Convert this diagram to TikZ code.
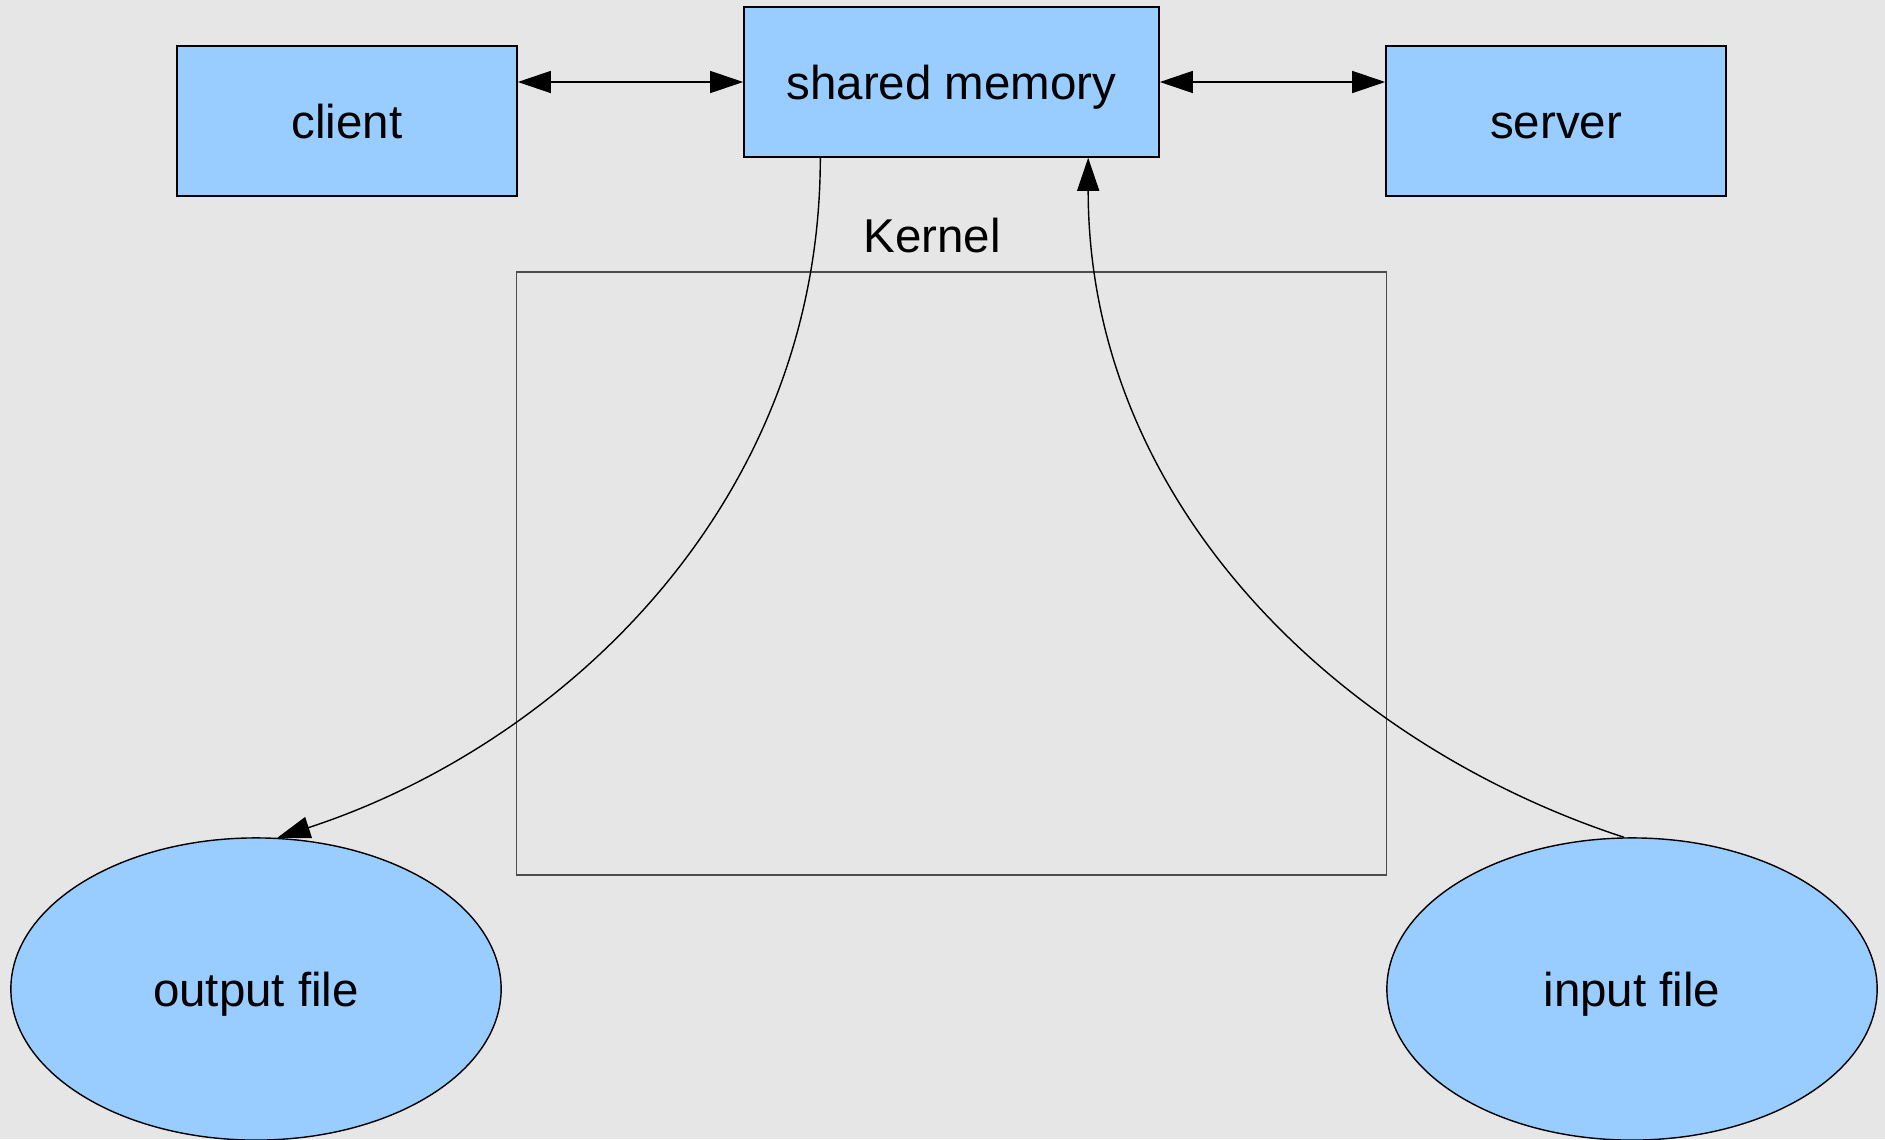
\documentclass[tikz,border=0pt]{standalone}
\usepackage{fontspec}
\setmainfont{Liberation Sans}
\usepackage{xcolor}
\definecolor{boxBlue}{HTML}{99CCFF}
\definecolor{paperGray}{HTML}{E6E6E6}
\usetikzlibrary{arrows.meta,shapes.geometric}

\begin{document}
\begin{tikzpicture}[x=0.01cm, y=-0.01cm,
    >={Triangle[length=0.33cm, width=0.22cm]},
    every node/.style={font=\fontsize{13.5}{16}\selectfont, inner sep=0pt},
    procbox/.style={draw, line width=0.4pt, fill=boxBlue, minimum height=1.5cm, text height=0.45cm, text depth=0.1cm},
    filenode/.style={draw, ellipse, line width=0.4pt, fill=boxBlue, minimum width=4.9cm, minimum height=3.02cm, text height=0.45cm, text depth=0.1cm},
    link/.style={line width=0.4pt}]
  \fill[paperGray] (0,0) rectangle (1885,1139);
  \useasboundingbox (0,0) rectangle (1885,1139);
  % ------- kernel area -------
  \node[draw=black!70, line width=0.4pt, minimum width=8.69cm, minimum height=6.03cm] (kernel) at (951.5,573.5) {};
  \node (kernlbl) at (932,236) {Kernel};
  % ------- processes and memory -------
  \node[procbox, minimum width=3.4cm] (client) at (347,121) {client};
  \node[procbox, minimum width=4.15cm] (smem) at (951.5,82) {shared memory};
  \node[procbox, minimum width=3.4cm] (srv) at (1556,121) {server};
  % ------- files -------
  \node[filenode] (outf) at (256,989) {output file};
  \node[filenode] (inf) at (1632,989) {input file};
  % ------- connectors -------
  \draw[link, <->] (smem.west -| client.east) -- (smem.west);
  \draw[link, <->] (smem.east) -- (smem.east -| srv.west);
  \draw[link, ->] (smem.-150.5) .. controls +(0,346) and +(285,-93) .. (outf.82);
  \draw[link, ->] (inf.93) .. controls +(-285,-93) and +(0,346) .. (smem.-29.1);
\end{tikzpicture}
\end{document}
